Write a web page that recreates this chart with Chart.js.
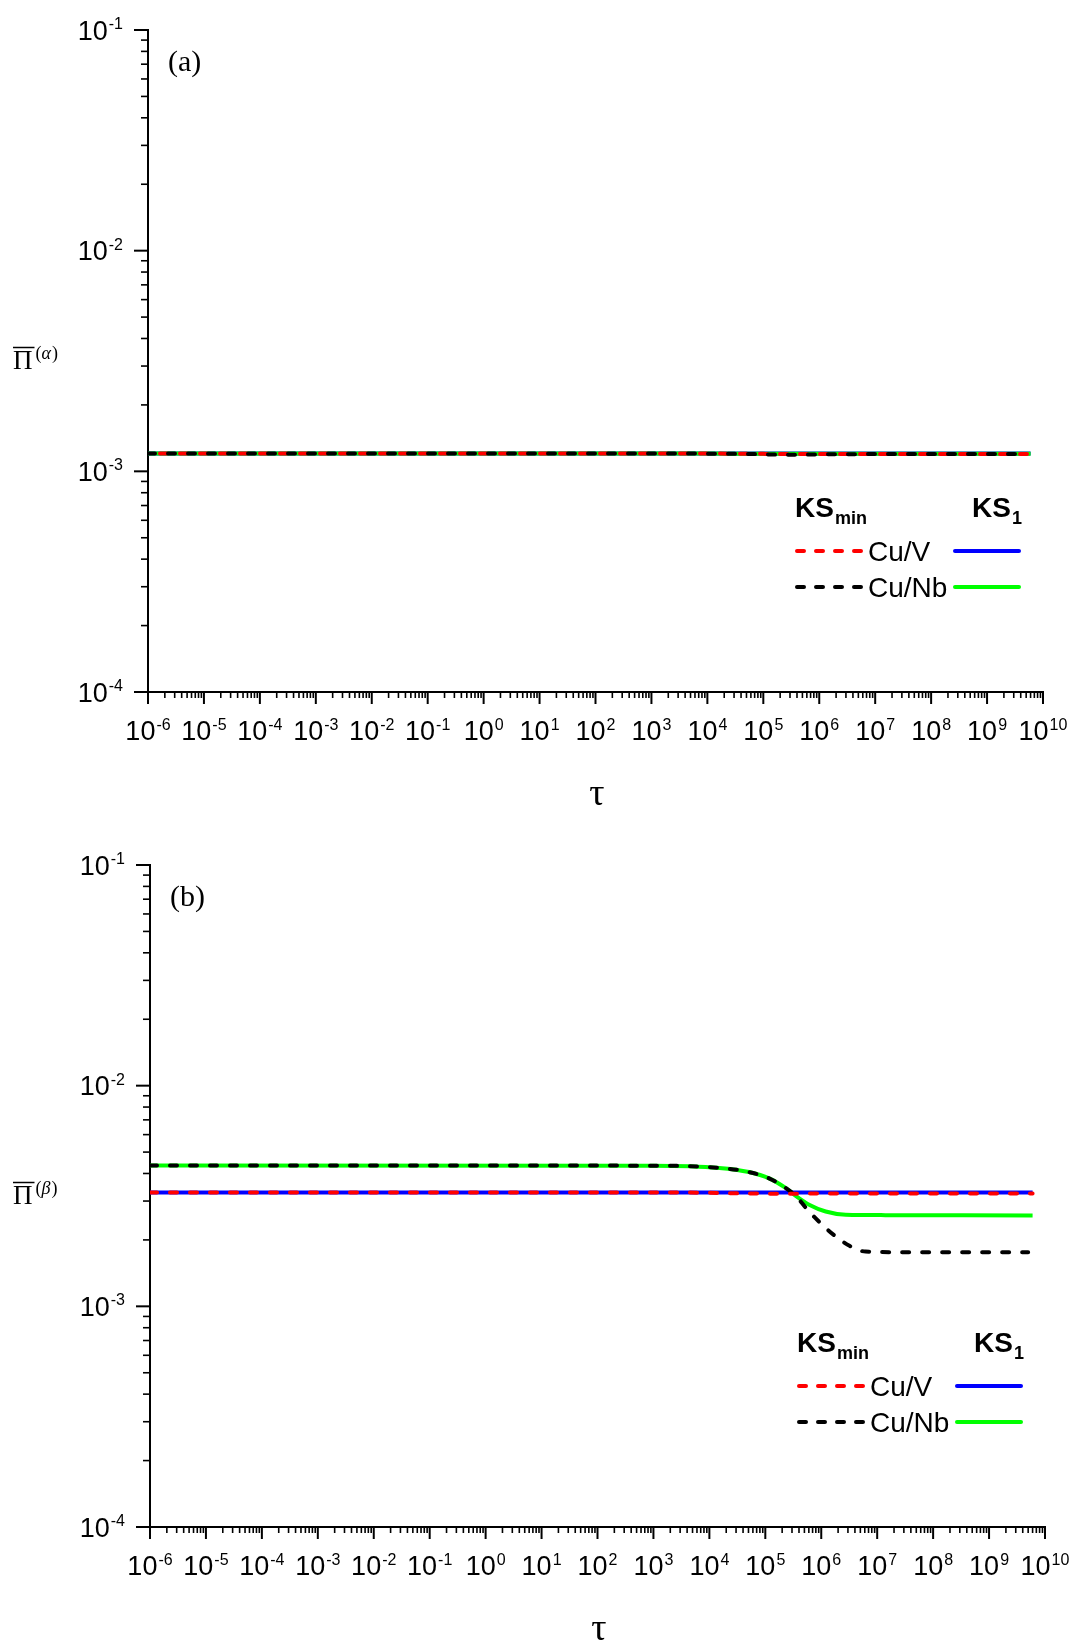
<!DOCTYPE html>
<html>
<head>
<meta charset="utf-8">
<script src="https://cdn.jsdelivr.net/npm/chart.js@4.4.0/dist/chart.umd.min.js"></script>
<style>
html, body { margin: 0; padding: 0; background: #fff; }
#wrap { position: relative; width: 1077px; height: 1645px; }
.panel { position: absolute; left: 0; width: 1077px; }
#pa { top: 0; height: 822px; }
#pb { top: 822px; height: 823px; }
</style>
</head>
<body>
<div id="wrap">
  <div class="panel" id="pa"><canvas id="chartA"></canvas></div>
  <div class="panel" id="pb"><canvas id="chartB"></canvas></div>
</div>
<script>
// ── Axis ticks (powers of ten) ───────────────────────────
const xTickExps = [-6, -5, -4, -3, -2, -1, 0, 1, 2, 3, 4, 5, 6, 7, 8, 9, 10];
const yTickExps = [-4, -3, -2, -1];
const legendNames = ['Cu/V', 'Cu/Nb'];

// ── Panel (a) ─────────────────────────────────────────────
const tauA_V_min  = [1e-6, 1e3, 1e4, 1e5, 3e5, 1e6, 1e7, 6e9];
const piA_V_min   = [1.205e-3, 1.205e-3, 1.204e-3, 1.200e-3, 1.197e-3, 1.197e-3, 1.198e-3, 1.198e-3];
const tauA_Nb_min = [1e-6, 1e3, 1e4, 1e5, 2e5, 5e5, 1e6, 1e7, 5e9];
const piA_Nb_min  = [1.205e-3, 1.205e-3, 1.203e-3, 1.195e-3, 1.190e-3, 1.190e-3, 1.193e-3, 1.197e-3, 1.197e-3];
const tauA_V_1    = [1e-6, 6e9];
const piA_V_1     = [1.205e-3, 1.205e-3];
const tauA_Nb_1   = [1e-6, 1e4, 1e5, 1e6, 6e9];
const piA_Nb_1    = [1.205e-3, 1.205e-3, 1.201e-3, 1.200e-3, 1.200e-3];

// ── Panel (b) ─────────────────────────────────────────────
const tauB_V_min  = [1e-6, 1e3, 1e4, 5e4, 3e5, 1e6, 6e9];
const piB_V_min   = [3.28e-3, 3.28e-3, 3.27e-3, 3.245e-3, 3.24e-3, 3.25e-3, 3.25e-3];
const tauB_Nb_min = [1e-6, 1e3, 1.5e4, 5.1e4, 1.17e5, 2.34e5, 3.55e5, 5.4e5, 9.1e5, 1.7e6, 3.2e6, 6.2e6, 3e7, 5e9];
const piB_Nb_min  = [4.35e-3, 4.34e-3, 4.24e-3, 4.06e-3, 3.80e-3, 3.43e-3, 3.16e-3, 2.78e-3, 2.42e-3, 2.10e-3, 1.88e-3, 1.77e-3, 1.76e-3, 1.76e-3];
const tauB_V_1    = [1e-6, 6e9];
const piB_V_1     = [3.28e-3, 3.28e-3];
const tauB_Nb_1   = [1e-6, 1e3, 1.5e4, 5.1e4, 1.17e5, 2.34e5, 3.55e5, 6.2e5, 1.2e6, 2.75e6, 1.4e7, 6e9];
const piB_Nb_1    = [4.35e-3, 4.34e-3, 4.24e-3, 4.06e-3, 3.80e-3, 3.43e-3, 3.16e-3, 2.88e-3, 2.69e-3, 2.60e-3, 2.59e-3, 2.58e-3];

const RED = '#ff0000', BLACK = '#000000', BLUE = '#0000ff', GREEN = '#00ff00';
const SANS = '"Liberation Sans", Arial, sans-serif';
const SERIF = '"Liberation Serif", "Times New Roman", serif';

function pts(t, v) { return t.map((x, i) => ({ x, y: v[i] })); }

function dashed(label, t, v, color, offset) {
    return { label, data: pts(t, v), borderColor: color, borderWidth: 4, borderDash: [7, 13],
             borderDashOffset: offset || 0, borderCapStyle: 'round', pointRadius: 0, fill: false,
             cubicInterpolationMode: 'monotone' };
}
function solid(label, t, v, color) {
    return { label, data: pts(t, v), borderColor: color, borderWidth: 4, pointRadius: 0, fill: false,
             cubicInterpolationMode: 'monotone' };
}

// "10" with a superscript exponent
function drawPow(ctx, x, base, exp, align) {
    ctx.font = '27px ' + SANS;
    const w1 = ctx.measureText('10').width;
    ctx.font = '16px ' + SANS;
    const w2 = ctx.measureText(String(exp)).width;
    let sx = align === 'right' ? x - w1 - w2 - 1 : x - (w1 + w2 + 1) / 2;
    ctx.textAlign = 'left';
    ctx.textBaseline = 'alphabetic';
    ctx.font = '27px ' + SANS;
    ctx.fillText('10', sx, base);
    ctx.font = '16px ' + SANS;
    ctx.fillText(String(exp), sx + w1 + 1, base - 10.5);
}

const axisDeco = {
    id: 'axisDeco',
    afterDraw(chart, args, o) {
        const { ctx, chartArea: a, scales: { x, y } } = chart;
        ctx.save();
        ctx.strokeStyle = '#000';
        ctx.fillStyle = '#000';

        // x ticks
        for (const e of xTickExps) {
            for (let m = 1; m <= 9; m++) {
                const v = m * Math.pow(10, e);
                if (v > x.max * 1.0001) break;
                const px = x.getPixelForValue(v);
                ctx.lineWidth = m === 1 ? 2 : 1.6;
                ctx.beginPath();
                ctx.moveTo(px, a.bottom);
                ctx.lineTo(px, a.bottom + (m === 1 ? 12 : 6));
                ctx.stroke();
            }
            drawPow(ctx, x.getPixelForValue(Math.pow(10, e)), a.bottom + 48, e, 'center');
        }
        // y ticks
        for (const e of yTickExps) {
            for (let m = 1; m <= 9; m++) {
                const v = m * Math.pow(10, e);
                if (v > y.max * 1.0001) break;
                const py = y.getPixelForValue(v);
                ctx.lineWidth = m === 1 ? 2 : 1.6;
                ctx.beginPath();
                ctx.moveTo(a.left, py);
                ctx.lineTo(a.left - (m === 1 ? 14 : 7), py);
                ctx.stroke();
            }
            drawPow(ctx, a.left - 25, y.getPixelForValue(Math.pow(10, e)) + 9.5, e, 'right');
        }

        // y title: overlined Pi with (alpha)/(beta)
        const tb = a.top + 339;
        ctx.font = '27px ' + SERIF;
        ctx.textAlign = 'left';
        ctx.fillText('\u03A0', 13, tb);
        const pw = ctx.measureText('\u03A0').width;
        ctx.lineWidth = 1.5;
        ctx.beginPath();
        ctx.moveTo(13, tb - 21.5);
        ctx.lineTo(13 + pw + 2, tb - 21.5);
        ctx.stroke();
        let sx = 13 + pw + 3;
        ctx.font = '18px ' + SERIF;
        ctx.fillText('(', sx, tb - 10); sx += ctx.measureText('(').width;
        ctx.font = 'italic 18px ' + SERIF;
        ctx.fillText(o.greek, sx, tb - 10); sx += ctx.measureText(o.greek).width + 1;
        ctx.font = '18px ' + SERIF;
        ctx.fillText(')', sx, tb - 10);

        // x title
        ctx.font = '38px ' + SERIF;
        ctx.textAlign = 'center';
        ctx.fillText('\u03C4', a.left + 449, a.bottom + 113);

        // panel label
        ctx.font = '30px ' + SERIF;
        ctx.textAlign = 'left';
        ctx.fillText(o.panel, a.left + 20, a.top + 41);

        // legend
        const L = a.left, T = a.top;
        ctx.font = 'bold 28px ' + SANS;
        ctx.fillText('KS', L + 647, T + 487);
        let kw = ctx.measureText('KS').width;
        ctx.font = 'bold 18px ' + SANS;
        ctx.fillText('min', L + 647 + kw + 1, T + 494);
        ctx.font = 'bold 28px ' + SANS;
        ctx.fillText('KS', L + 824, T + 487);
        ctx.font = 'bold 18px ' + SANS;
        ctx.fillText('1', L + 824 + kw + 1, T + 494);

        const rows = [[T + 521, RED, BLUE], [T + 557, BLACK, GREEN]];
        rows.forEach((r, i) => {
            ctx.lineWidth = 4;
            ctx.lineCap = 'round';
            ctx.strokeStyle = r[1];
            ctx.setLineDash([7, 12]);
            ctx.beginPath();
            ctx.moveTo(L + 649, r[0]);
            ctx.lineTo(L + 714, r[0]);
            ctx.stroke();
            ctx.setLineDash([]);
            ctx.strokeStyle = r[2];
            ctx.beginPath();
            ctx.moveTo(L + 807, r[0]);
            ctx.lineTo(L + 871, r[0]);
            ctx.stroke();
            ctx.font = '28px ' + SANS;
            ctx.fillText(legendNames[i], L + 720, r[0] + 10);
        });
        ctx.restore();
    }
};

function makeChart(id, datasets, pad, panel, greek) {
    return new Chart(document.getElementById(id), {
        type: 'line',
        data: { datasets },
        options: {
            responsive: true,
            maintainAspectRatio: false,
            animation: false,
            layout: { padding: pad },
            plugins: { legend: { display: false }, tooltip: { enabled: false }, axisDeco: { panel, greek } },
            scales: {
                x: {
                    type: 'logarithmic', min: 1e-6, max: 1e10,
                    ticks: { display: false },
                    grid: { drawOnChartArea: false, drawTicks: false },
                    border: { display: true, width: 2, color: '#000' },
                    afterFit: s => { s.height = 0; },
                },
                y: {
                    type: 'logarithmic', min: 1e-4, max: 1e-1,
                    ticks: { display: false },
                    grid: { drawOnChartArea: false, drawTicks: false },
                    border: { display: true, width: 2, color: '#000' },
                    afterFit: s => { s.width = 0; },
                },
            },
        },
        plugins: [axisDeco],
    });
}

makeChart('chartA', [
    dashed('KSmin Cu/Nb', tauA_Nb_min, piA_Nb_min, BLACK, 0),
    dashed('KSmin Cu/V', tauA_V_min, piA_V_min, RED, 8),
    solid('KS1 Cu/Nb', tauA_Nb_1, piA_Nb_1, GREEN),
    solid('KS1 Cu/V', tauA_V_1, piA_V_1, BLUE),
], { left: 148, top: 30, right: 34, bottom: 130 }, '(a)', '\u03B1');

makeChart('chartB', [
    dashed('KSmin Cu/V', tauB_V_min, piB_V_min, RED, 0),
    dashed('KSmin Cu/Nb', tauB_Nb_min, piB_Nb_min, BLACK, 0),
    solid('KS1 Cu/V', tauB_V_1, piB_V_1, BLUE),
    solid('KS1 Cu/Nb', tauB_Nb_1, piB_Nb_1, GREEN),
], { left: 150, top: 43, right: 32, bottom: 118 }, '(b)', '\u03B2');
</script>
</body>
</html>
